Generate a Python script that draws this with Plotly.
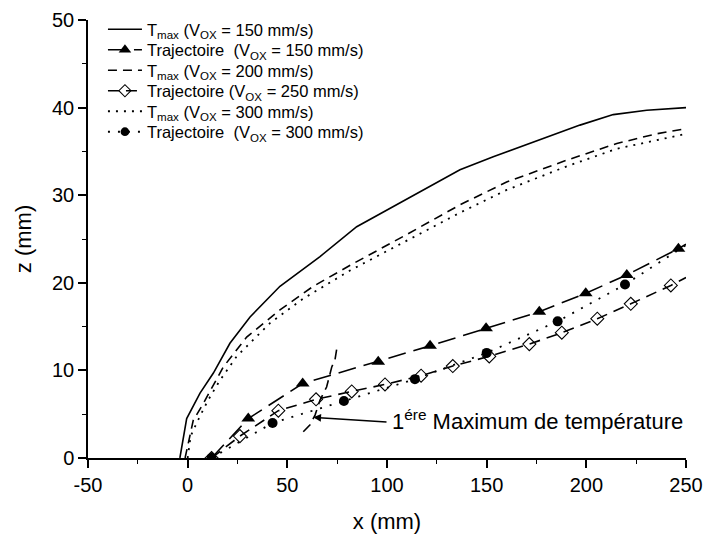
import plotly.graph_objects as go

# --- data ---
tmax150_x = [-3.9, -0.5, 6.2, 12.9, 21.2, 31.3, 46.3, 66.4, 84.8, 99.8, 114.9, 136.6, 153.3, 168.0, 183.4, 196.8, 213.5, 230.3, 250.0]
tmax150_z = [0.0, 4.5, 7.4, 9.7, 13.1, 16.1, 19.6, 23.0, 26.4, 28.3, 30.2, 32.9, 34.4, 35.6, 36.9, 38.0, 39.2, 39.7, 40.0]

tmax200_x = [-1.3, 1.0, 2.8, 7.8, 17.9, 29.6, 46.3, 63.0, 83.1, 108.2, 136.6, 160.0, 190.2, 215.3, 235.0, 250.0]
tmax200_z = [0.0, 2.5, 4.3, 6.2, 10.4, 13.8, 16.9, 19.6, 22.2, 25.3, 28.9, 31.5, 34.0, 35.9, 37.0, 37.6]

tmax300_x = [0.0, 1.5, 4.5, 10.0, 16.0, 24.6, 41.3, 58.0, 81.4, 108.2, 136.6, 160.0, 190.2, 215.3, 250.0]
tmax300_z = [0.0, 2.5, 4.0, 6.5, 8.8, 11.6, 15.4, 18.2, 21.4, 24.6, 28.0, 30.6, 33.3, 35.3, 37.0]

traj150_x = [12.0, 30.4, 57.7, 95.6, 121.6, 149.7, 176.4, 199.7, 220.3, 246.2, 250.0]
traj150_z = [0.0, 4.5, 8.5, 11.0, 12.8, 14.8, 16.7, 18.8, 20.9, 23.9, 24.4]

traj250_x = [12.0, 26.2, 45.5, 64.4, 82.3, 99.0, 117.1, 133.0, 151.3, 171.4, 187.7, 205.5, 222.3, 242.4, 250.0]
traj250_z = [0.0, 2.5, 5.4, 6.7, 7.6, 8.4, 9.4, 10.5, 11.6, 13.0, 14.3, 15.9, 17.6, 19.7, 20.6]

traj300_x = [12.0, 42.6, 78.4, 114.0, 150.0, 185.6, 219.4, 250.0]
traj300_z = [0.0, 4.0, 6.5, 9.0, 12.0, 15.6, 19.8, 24.3]

locus_x = [58.0, 61.4, 63.9, 66.4, 69.7, 72.3, 73.9, 74.8]
locus_z = [3.0, 3.8, 4.9, 6.6, 8.1, 10.4, 11.2, 12.5]

x_tickvals = [-50, 0, 50, 100, 150, 200, 250]
x_ticktext = ["-50", "0", "50", "100", "150", "200", "250"]
y_tickvals = [0, 10, 20, 30, 40, 50]
y_ticktext = ["0", "10", "20", "30", "40", "50"]

arrow_tip = (63.0, 4.64)
arrow_tail = (100.5, 4.1)
note_pos = (101.5, 4.3)

FONT = "Liberation Sans, Arial, sans-serif"
NB = "\u00a0"

def sizes(n, s):
    return [s] * (n - 1) + [0]

names = [
    "T<sub>max</sub> (V<sub>OX</sub> = 150 mm/s)",
    "Trajectoire" + NB + " (V<sub>OX</sub> = 150 mm/s)",
    "T<sub>max</sub> (V<sub>OX</sub> = 200 mm/s)",
    "Trajectoire (V<sub>OX</sub> = 250 mm/s)",
    "T<sub>max</sub> (V<sub>OX</sub> = 300 mm/s)",
    "Trajectoire" + NB + " (V<sub>OX</sub> = 300 mm/s)",
]
legend_ids = ["legend", "legend2", "legend3", "legend4", "legend5", "legend6"]

fig = go.Figure()
fig.add_trace(go.Scatter(x=tmax150_x, y=tmax150_z, mode="lines",
                         line=dict(color="black", width=1.6),
                         name=names[0], legend=legend_ids[0]))
fig.add_trace(go.Scatter(x=traj150_x, y=traj150_z, mode="lines+markers",
                         line=dict(color="black", width=1.6, dash="18px,8px"),
                         marker=dict(symbol="triangle-up", size=sizes(len(traj150_x), 12), color="#000000",
                                     opacity=1, line=dict(width=0)),
                         name=names[1], legend=legend_ids[1]))
fig.add_trace(go.Scatter(x=tmax200_x, y=tmax200_z, mode="lines",
                         line=dict(color="black", width=1.6, dash="9px,6px"),
                         name=names[2], legend=legend_ids[2]))
fig.add_trace(go.Scatter(x=traj250_x, y=traj250_z, mode="lines+markers",
                         line=dict(color="black", width=1.6, dash="11px,7px"),
                         marker=dict(symbol="diamond-open", size=sizes(len(traj250_x), 10), color="#000000",
                                     opacity=1, line=dict(width=1.1)),
                         name=names[3], legend=legend_ids[3]))
fig.add_trace(go.Scatter(x=tmax300_x, y=tmax300_z, mode="lines",
                         line=dict(color="black", width=1.8, dash="2px,6px"),
                         name=names[4], legend=legend_ids[4]))
fig.add_trace(go.Scatter(x=traj300_x, y=traj300_z, mode="lines+markers",
                         line=dict(color="black", width=1.8, dash="2px,8px"),
                         marker=dict(symbol="circle", size=sizes(len(traj300_x), 10), color="#000000",
                                     opacity=1, line=dict(width=0)),
                         name=names[5], legend=legend_ids[5]))
fig.add_trace(go.Scatter(x=locus_x, y=locus_z, mode="lines", showlegend=False,
                         line=dict(color="black", width=1.6, dash="10px,6px"), hoverinfo="skip"))

fig.add_annotation(x=arrow_tip[0], y=arrow_tip[1], ax=arrow_tail[0], ay=arrow_tail[1],
                   xref="x", yref="y", axref="x", ayref="y", text="",
                   showarrow=True, arrowhead=2, arrowsize=1.2, arrowwidth=1.3, arrowcolor="black")
fig.add_annotation(x=note_pos[0], y=note_pos[1], xref="x", yref="y",
                   text="1<sup>ére</sup> Maximum de température", showarrow=False,
                   xanchor="left", yanchor="middle", font=dict(size=22, color="black", family=FONT))

axis_common = dict(showline=True, linecolor="black", linewidth=1.5, mirror=False,
                   ticks="outside", ticklen=8, tickwidth=1.5, tickcolor="black",
                   showgrid=False, zeroline=False, automargin=False,
                   tickfont=dict(size=20, color="black", family=FONT))

fig.update_xaxes(range=[-50, 250], tickvals=x_tickvals, ticktext=x_ticktext,
                 minor=dict(dtick=25, tick0=0, ticks="outside", ticklen=4, tickwidth=1.2, tickcolor="black"),
                 title=dict(text="x (mm)", font=dict(size=22, color="black", family=FONT), standoff=20),
                 **axis_common)
fig.update_yaxes(range=[0, 50], tickvals=y_tickvals, ticktext=y_ticktext,
                 minor=dict(dtick=5, tick0=0, ticks="outside", ticklen=4, tickwidth=1.2, tickcolor="black"),
                 title=dict(text="z (mm)", font=dict(size=22, color="black", family=FONT), standoff=14),
                 **axis_common)

PLOT_TOP, PLOT_BOTTOM = 20, 458
row_px = [29.5, 50.0, 70.5, 91.0, 111.5, 132.0]
legend_layout = {}
for lid, py in zip(legend_ids, row_px):
    legend_layout[lid] = dict(x=0.025, y=(PLOT_BOTTOM - py) / (PLOT_BOTTOM - PLOT_TOP),
                              xanchor="left", yanchor="middle",
                              bgcolor="rgba(0,0,0,0)", borderwidth=0,
                              font=dict(size=16.5, color="black", family=FONT),
                              itemwidth=34)

fig.update_layout(width=704, height=534, margin=dict(l=88, r=18, t=PLOT_TOP, b=534 - PLOT_BOTTOM),
                  plot_bgcolor="white", paper_bgcolor="white",
                  font=dict(family=FONT, color="black"), showlegend=True,
                  **legend_layout)

fig.write_html("out.html")
